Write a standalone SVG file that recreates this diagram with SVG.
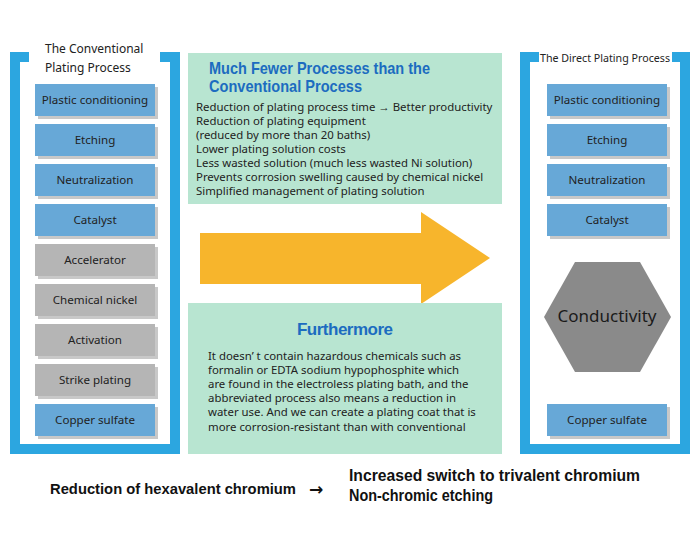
<svg xmlns="http://www.w3.org/2000/svg" width="700" height="560" viewBox="0 0 700 560">
<defs>
<style>
.frame{fill:#2ca6e0}
.inner{fill:#fff}
.shadow{fill:#c8c8c8}
.bb{fill:#67a8d7}
.gb{fill:#b5b5b5}
.bt{font-family:"Noto Sans","Open Sans",sans-serif;font-size:11.6px;fill:#222;text-anchor:middle}
.panel{fill:#b8e5d1}
.head{font-family:"Liberation Sans",Arial,sans-serif;font-weight:bold;font-size:17px;fill:#1c6cc0}
.body{font-family:"Noto Sans","Open Sans",sans-serif;font-size:11.4px;fill:#222}
.foot{font-family:"Liberation Sans",Arial,sans-serif;font-weight:bold;font-size:16px;fill:#111}
.ttl{font-family:"Noto Sans","Open Sans",sans-serif;font-size:12px;fill:#222}
</style>
</defs>
<rect width="700" height="560" fill="#fff"/>

<g id="left-frame">
<rect class="frame" x="10" y="52" width="170" height="402"/>
<rect class="inner" x="20" y="62" width="150" height="382"/>
<rect class="inner" x="29" y="40" width="131" height="23"/>
<text class="ttl" x="45" y="53">The Conventional</text>
<text class="ttl" x="45" y="72">Plating Process</text>
</g>

<g id="right-frame">
<rect class="frame" x="520" y="52" width="170" height="402"/>
<rect class="inner" x="530" y="62" width="150" height="382"/>
<rect class="inner" x="539" y="50" width="133" height="13"/>
<text class="ttl" x="540" y="62" style="font-size:11.5px" textLength="130" lengthAdjust="spacingAndGlyphs">The Direct Plating Process</text>
</g>

<g id="l1"><rect class="shadow" x="38" y="87" width="120" height="32"/><rect class="bb" x="35" y="84" width="120" height="32"/><text class="bt" x="95" y="104">Plastic conditioning</text></g>
<g id="l2"><rect class="shadow" x="38" y="127" width="120" height="32"/><rect class="bb" x="35" y="124" width="120" height="32"/><text class="bt" x="95" y="144">Etching</text></g>
<g id="l3"><rect class="shadow" x="38" y="167" width="120" height="32"/><rect class="bb" x="35" y="164" width="120" height="32"/><text class="bt" x="95" y="184">Neutralization</text></g>
<g id="l4"><rect class="shadow" x="38" y="207" width="120" height="32"/><rect class="bb" x="35" y="204" width="120" height="32"/><text class="bt" x="95" y="224">Catalyst</text></g>
<g id="l5"><rect class="shadow" x="38" y="247" width="120" height="32"/><rect class="gb" x="35" y="244" width="120" height="32"/><text class="bt" x="95" y="264">Accelerator</text></g>
<g id="l6"><rect class="shadow" x="38" y="287" width="120" height="32"/><rect class="gb" x="35" y="284" width="120" height="32"/><text class="bt" x="95" y="304">Chemical nickel</text></g>
<g id="l7"><rect class="shadow" x="38" y="327" width="120" height="32"/><rect class="gb" x="35" y="324" width="120" height="32"/><text class="bt" x="95" y="344">Activation</text></g>
<g id="l8"><rect class="shadow" x="38" y="367" width="120" height="32"/><rect class="gb" x="35" y="364" width="120" height="32"/><text class="bt" x="95" y="384">Strike plating</text></g>
<g id="l9"><rect class="shadow" x="38" y="407" width="120" height="32"/><rect class="bb" x="35" y="404" width="120" height="32"/><text class="bt" x="95" y="424">Copper sulfate</text></g>

<g id="r1"><rect class="shadow" x="550" y="87" width="120" height="32"/><rect class="bb" x="547" y="84" width="120" height="32"/><text class="bt" x="607" y="104">Plastic conditioning</text></g>
<g id="r2"><rect class="shadow" x="550" y="127" width="120" height="32"/><rect class="bb" x="547" y="124" width="120" height="32"/><text class="bt" x="607" y="144">Etching</text></g>
<g id="r3"><rect class="shadow" x="550" y="167" width="120" height="32"/><rect class="bb" x="547" y="164" width="120" height="32"/><text class="bt" x="607" y="184">Neutralization</text></g>
<g id="r4"><rect class="shadow" x="550" y="207" width="120" height="32"/><rect class="bb" x="547" y="204" width="120" height="32"/><text class="bt" x="607" y="224">Catalyst</text></g>
<g id="r5"><polygon points="544,317 575,262 640,262 671,317 640,372 575,372" fill="#8a8a8a"/><text x="607" y="322" font-family="Noto Sans,Open Sans,sans-serif" font-size="17" fill="#1a1a1a" text-anchor="middle">Conductivity</text></g>
<g id="r6"><rect class="shadow" x="550" y="407" width="120" height="32"/><rect class="bb" x="547" y="404" width="120" height="32"/><text class="bt" x="607" y="424">Copper sulfate</text></g>

<g id="panel-top">
<rect class="panel" x="188" y="53" width="314" height="151"/>
<text class="head" x="209" y="74" textLength="221" lengthAdjust="spacingAndGlyphs">Much Fewer Processes than the</text>
<text class="head" x="209" y="92" textLength="153" lengthAdjust="spacingAndGlyphs">Conventional Process</text>
<text class="body" x="196" y="111">Reduction of plating process time → Better productivity</text>
<text class="body" x="196" y="125">Reduction of plating equipment</text>
<text class="body" x="196" y="139">(reduced by more than 20 baths)</text>
<text class="body" x="196" y="153">Lower plating solution costs</text>
<text class="body" x="196" y="167">Less wasted solution (much less wasted Ni solution)</text>
<text class="body" x="196" y="181">Prevents corrosion swelling caused by chemical nickel</text>
<text class="body" x="196" y="195">Simplified management of plating solution</text>
</g>

<g id="arrow">
<polygon points="200,233 421,233 421,212 490,258 421,304 421,284 200,284" fill="#f7b52c"/>
</g>

<g id="panel-bottom">
<rect class="panel" x="188" y="303" width="314" height="151"/>
<text class="head" x="297" y="335" textLength="96" lengthAdjust="spacing">Furthermore</text>
<text class="body" x="208" y="360">It doesn’ t contain hazardous chemicals such as</text>
<text class="body" x="208" y="374">formalin or EDTA sodium hypophosphite which</text>
<text class="body" x="208" y="388">are found in the electroless plating bath, and the</text>
<text class="body" x="208" y="402">abbreviated process also means a reduction in</text>
<text class="body" x="208" y="416">water use. And we can create a plating coat that is</text>
<text class="body" x="208" y="431">more corrosion-resistant than with conventional</text>
</g>

<g id="footer">
<text class="foot" x="50" y="494" style="font-size:14.5px" textLength="246" lengthAdjust="spacingAndGlyphs">Reduction of hexavalent chromium</text>
<text x="309" y="495" font-family="DejaVu Sans,sans-serif" font-weight="bold" font-size="17" fill="#111">→</text>
<text class="foot" x="349" y="481" textLength="291" lengthAdjust="spacingAndGlyphs">Increased switch to trivalent chromium</text>
<text class="foot" x="349" y="501" textLength="144" lengthAdjust="spacingAndGlyphs">Non-chromic etching</text>
</g>
</svg>
